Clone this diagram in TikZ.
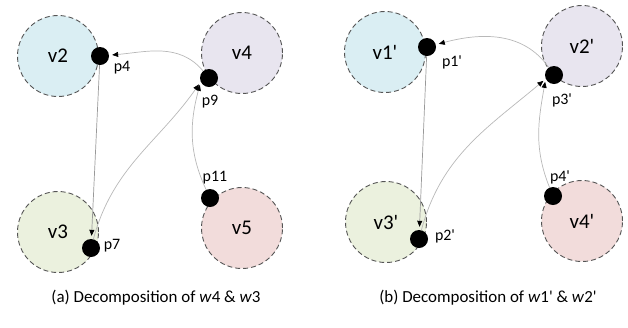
\documentclass[tikz,border=0pt]{standalone}
\usepackage{fontspec}
\setmainfont{Carlito}
\usetikzlibrary{arrows.meta}
\definecolor{vblue}{HTML}{DAEEF3}
\definecolor{vlilac}{HTML}{E8E5EF}
\definecolor{vgreen}{HTML}{EBF1DE}
\definecolor{vpink}{HTML}{F2DCDB}
\definecolor{rim}{HTML}{555555}
\newcommand{\vq}{\textquotesingle}

\begin{document}
\begin{tikzpicture}[x=1bp,y=1bp,
 font=\fontsize{21}{24}\selectfont,
 vert/.style={circle,draw=rim,line width=0.9bp,dash pattern=on 5bp off 3bp,
  minimum size=81bp,inner sep=0pt},
 port/.style={circle,fill=black,minimum size=18bp,inner sep=0pt},
 plab/.style={font=\fontsize{16}{18}\selectfont,inner sep=0pt},
 subcap/.style={font=\fontsize{17}{20}\selectfont,inner sep=0pt},
 flow/.style={-{Triangle[length=6bp,width=5bp,color=black]},draw=black!28,
  line width=0.7bp,shorten >=3bp},
 dark/.style={draw=black!40}]
\useasboundingbox (0,0) rectangle (628,-327);
% (a)
\node[vert,fill=vblue] (v2) at (58,-56) {v2};
\node[vert,fill=vlilac] (v4) at (242,-53) {v4};
\node[vert,fill=vgreen] (v3) at (58,-232) {v3};
\node[vert,fill=vpink] (v5) at (242,-228) {v5};
\node[port] (p4) at (100,-56) {};
\node[port] (p9) at (209,-78) {};
\node[port] (p11) at (210,-198) {};
\node[port] (p7) at (91,-248) {};
\node[plab] (l4) at (122,-68) {p4};
\node[plab] (l9) at (210,-102) {p9};
\node[plab] (l11) at (215,-178) {p11};
\node[plab] (l7) at (112,-246) {p7};
\draw[flow] (p9) to[out=130,in=5] (p4);
\draw[flow,dark] (p4) -- (p7);
\draw[flow] (p7) to[out=75,in=-125] (p9.205);
\draw[flow] (p11) to[out=115,in=-105] (p9.205);
\node[subcap] (capa) at (156,-298) {(a) Decomposition of \textit{w}4 \& \textit{w}3};
% (b)
\node[vert,fill=vblue] (u1) at (385,-52) {v1\vq};
\node[vert,fill=vlilac] (u2) at (582,-46) {v2\vq};
\node[vert,fill=vgreen] (u3) at (386,-222) {v3\vq};
\node[vert,fill=vpink] (u4) at (582,-221) {v4\vq};
\node[port] (q1) at (427,-47) {};
\node[port] (q3) at (554,-75) {};
\node[port] (q2) at (419,-239) {};
\node[port] (q4) at (553,-196) {};
\node[plab] (m1) at (452,-62) {p1\vq};
\node[plab] (m3) at (562,-100) {p3\vq};
\node[plab] (m2) at (445,-236) {p2\vq};
\node[plab] (m4) at (560,-177) {p4\vq};
\draw[flow] (q3) to[out=125,in=15] (q1);
\draw[flow,dark] (q1) -- (q2);
\draw[flow] (q2) to[out=75,in=-140] (q3.205);
\draw[flow] (q4) to[out=112,in=-100] (q3.205);
\node[subcap] (capb) at (488,-298) {(b) Decomposition of \textit{w}1\vq{} \& \textit{w}2\vq};
\end{tikzpicture}
\end{document}
